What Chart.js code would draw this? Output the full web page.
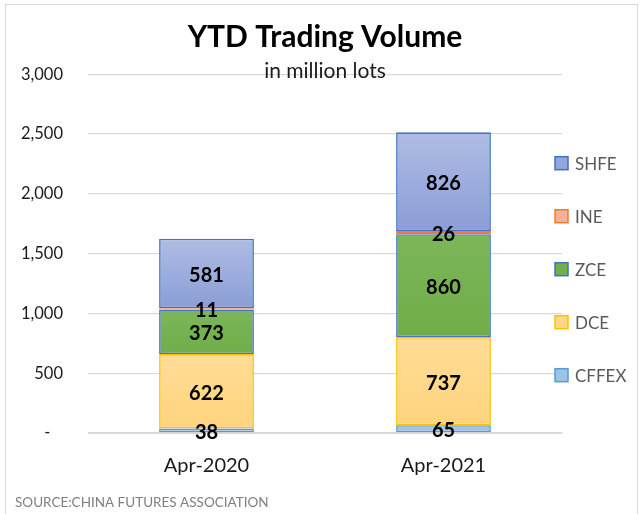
<!DOCTYPE html>
<html>
<head>
<meta charset="utf-8">
<script src="https://cdn.jsdelivr.net/npm/chart.js@4.4.0/dist/chart.umd.min.js"></script>
<style>
html, body { margin: 0; padding: 0; background: #fff; }
#wrap { position: relative; width: 643px; height: 514px; overflow: hidden; }
#frame { position: absolute; left: 5px; top: 4px; width: 631px; height: 530px; border: 1px solid #d9d9d9; pointer-events: none; }
</style>
</head>
<body>
<div id="wrap">
  <canvas id="volChart" width="643" height="514"></canvas>
  <div id="frame"></div>
</div>
<script>
// categories and series (million lots), bottom of the stack first
var months = ["Apr-2020", "Apr-2021"];
var cffex = [38, 65];
var dce = [622, 737];
var zce = [373, 860];
var ine = [11, 26];
var shfe = [581, 826];

var FONT = "Lato, 'Open Sans', sans-serif";

// vertical gradient over one stacked segment
function segGradient(top, bottom, solid) {
  return function(c) {
    var chart = c.chart;
    if (c.type !== 'data' || !chart.scales || !chart.scales.y) return solid;
    var base = 0;
    for (var i = 0; i < c.datasetIndex; i++) base += chart.data.datasets[i].data[c.dataIndex];
    var val = chart.data.datasets[c.datasetIndex].data[c.dataIndex];
    var y0 = chart.scales.y.getPixelForValue(base + val);
    var y1 = chart.scales.y.getPixelForValue(base);
    if (!isFinite(y0) || !isFinite(y1) || y0 === y1) return solid;
    var g = chart.ctx.createLinearGradient(0, y0, 0, y1);
    g.addColorStop(0, top);
    g.addColorStop(1, bottom);
    return g;
  };
}

var segmentLabels = {
  id: 'segmentLabels',
  afterDatasetsDraw: function(chart) {
    var ctx = chart.ctx;
    ctx.save();
    ctx.font = "bold 20px " + FONT;
    ctx.fillStyle = '#000';
    ctx.textAlign = 'center';
    ctx.textBaseline = 'middle';
    chart.data.datasets.forEach(function(ds, di) {
      chart.getDatasetMeta(di).data.forEach(function(bar, i) {
        ctx.fillText(ds.data[i], bar.x, (bar.y + bar.base) / 2 + 2);
      });
    });
    ctx.restore();
  }
};

var sideLegend = {
  id: 'sideLegend',
  afterDraw: function(chart) {
    var ctx = chart.ctx, a = chart.chartArea;
    var sets = chart.data.datasets.slice().reverse();
    ctx.save();
    ctx.font = "17px " + FONT;
    ctx.textBaseline = 'middle';
    ctx.textAlign = 'left';
    sets.forEach(function(ds, i) {
      var y = a.top + 89 + i * 53;
      var x = a.right - 7;
      ctx.fillStyle = ds.legendFill;
      ctx.fillRect(x, y - 6.5, 13, 13);
      ctx.strokeStyle = ds.borderColor;
      ctx.lineWidth = 1.5;
      ctx.strokeRect(x, y - 6.5, 13, 13);
      ctx.fillStyle = '#595959';
      ctx.fillText(ds.label, x + 20, y + 1);
    });
    // source note
    ctx.font = "13.5px " + FONT;
    ctx.fillStyle = '#7f7f7f';
    ctx.fillText('SOURCE:CHINA FUTURES ASSOCIATION', 15, 503);
    ctx.restore();
  }
};

var ctx = document.getElementById("volChart");
var volChart = new Chart(ctx, {
  type: 'bar',
  data: {
    labels: months,
    datasets: [
      { label: "CFFEX", data: cffex, backgroundColor: segGradient('#a9cbeb', '#94bde4', '#9dc3e6'),
        legendFill: '#9dc3e6', borderColor: '#5b9bd5' },
      { label: "DCE", data: dce, backgroundColor: segGradient('#ffdc96', '#ffd47e', '#ffd78a'),
        legendFill: '#ffd78a', borderColor: '#ffc000' },
      { label: "ZCE", data: zce, backgroundColor: segGradient('#7cb65a', '#70ad47', '#74b04e'),
        legendFill: '#72ae4b', borderColor: '#4472c4' },
      { label: "INE", data: ine, backgroundColor: segGradient('#f6b9a0', '#f2a585', '#f4b09a'),
        legendFill: '#f4b09a', borderColor: '#ed7d31' },
      { label: "SHFE", data: shfe, backgroundColor: segGradient('#afbce4', '#8a9dd6', '#8fa2d8'),
        legendFill: '#93a5d9', borderColor: '#4472c4' }
    ]
  },
  options: {
    responsive: false,
    animation: false,
    layout: { padding: { left: 21, right: 81, top: 0, bottom: 38 } },
    datasets: {
      bar: { barPercentage: 0.4, categoryPercentage: 1, borderWidth: 1.6, borderSkipped: false }
    },
    scales: {
      x: {
        stacked: true,
        grid: { display: false, drawTicks: false },
        border: { color: '#d9d9d9', width: 1 },
        ticks: { padding: 21, color: '#1a1a1a', font: { family: FONT, size: 20 } },
        afterFit: function(s) { s.height = 43; }
      },
      y: {
        stacked: true,
        min: 0, max: 3000,
        grid: { color: '#d9d9d9', lineWidth: 1.3, drawTicks: false },
        border: { display: false },
        ticks: {
          stepSize: 500, padding: 25, color: '#1a1a1a', font: { family: FONT, size: 16.5 },
          callback: function(v) { return v === 0 ? '-   ' : v.toLocaleString('en-US'); }
        },
        afterFit: function(s) { s.width = 67; }
      }
    },
    plugins: {
      legend: { display: false },
      tooltip: { enabled: false },
      title: {
        display: true, fullSize: false, text: 'YTD Trading Volume', color: '#000',
        font: { family: FONT, size: 30, weight: 'bold' }, padding: { top: 19, bottom: 0 }
      },
      subtitle: {
        display: true, fullSize: false, text: 'in million lots', color: '#1a1a1a',
        font: { family: FONT, size: 21 }, padding: { top: 4, bottom: -10 }
      }
    }
  },
  plugins: [segmentLabels, sideLegend]
});
</script>
</body>
</html>
